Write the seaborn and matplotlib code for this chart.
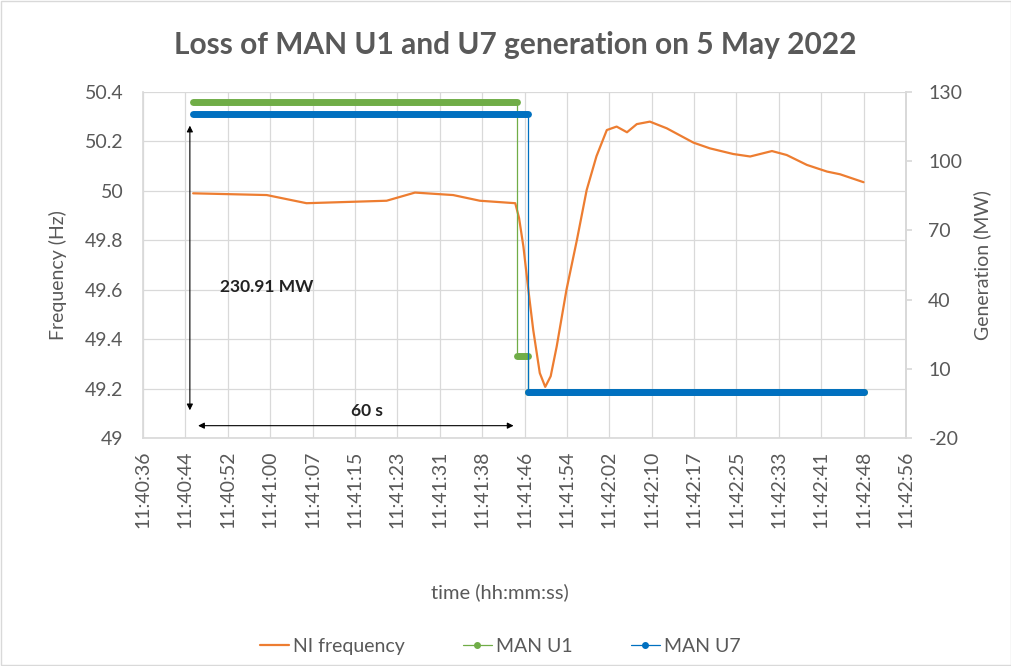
import numpy as np
import matplotlib
matplotlib.use("Agg")
import matplotlib.pyplot as plt
from matplotlib.lines import Line2D
from matplotlib.patches import Rectangle
import seaborn as sns

# seconds after 11:40:36
freq_seconds = [9.2, 22.7, 30.0, 44.7, 49.9, 56.9, 61.8, 68.3, 69.0, 69.8, 70.7, 71.6,
                72.8, 73.8, 74.8, 75.9, 77.7, 79.6, 81.4, 83.2, 85.1, 86.9, 88.8, 90.6,
                93.0, 96.1, 101.0, 104.0, 108.3, 111.4, 115.4, 118.1, 121.8, 125.5,
                127.9, 132.2]
freq_hz = [49.99, 49.983, 49.95, 49.96, 49.993, 49.983, 49.96, 49.95, 49.89, 49.774,
           49.60, 49.437, 49.263, 49.207, 49.25, 49.37, 49.60, 49.80, 50.003, 50.14,
           50.246, 50.26, 50.237, 50.27, 50.28, 50.253, 50.195, 50.172, 50.149, 50.139,
           50.161, 50.145, 50.105, 50.078, 50.067, 50.035]

u1_seconds = [9.2, 68.6, 68.6, 70.7, 70.7, 132.2]
u1_mw = [125.8, 125.8, 15.6, 15.6, 0.0, 0.0]
u7_seconds = [9.2, 70.7, 70.7, 132.2]
u7_mw = [120.5, 120.5, 0.0, 0.0]

time_labels = ["11:40:36", "11:40:44", "11:40:52", "11:41:00", "11:41:07", "11:41:15",
               "11:41:23", "11:41:31", "11:41:38", "11:41:46", "11:41:54", "11:42:02",
               "11:42:10", "11:42:17", "11:42:25", "11:42:33", "11:42:41", "11:42:48",
               "11:42:56"]
freq_ticks = [49, 49.2, 49.4, 49.6, 49.8, 50, 50.2, 50.4]
gen_ticks = [-20, 10, 40, 70, 100, 130]

ORANGE = "#ED7D31"
GREEN = "#70AD47"
BLUE = "#0070C0"
GREY = "#595959"
GRID = "#D9D9D9"

sns.set_theme(style="white")
plt.rcParams["font.family"] = ["Lato", "DejaVu Sans"]

fig = plt.figure(figsize=(10.12, 6.66), dpi=100)
ax = fig.add_axes([0.1413, 0.3423, 0.7540, 0.5196])
ax2 = ax.twinx()

# frequency
sns.lineplot(x=freq_seconds, y=freq_hz, ax=ax, color=ORANGE, linewidth=1.6,
             sort=False, estimator=None)

# generation: thin step lines plus thick marker bands on flat parts
for t, v, c in [(u1_seconds, u1_mw, GREEN), (u7_seconds, u7_mw, BLUE)]:
    sns.lineplot(x=t, y=v, ax=ax2, color=c, linewidth=0.9, sort=False, estimator=None)
    for i in range(len(t) - 1):
        if v[i] == v[i + 1]:
            ax2.plot([t[i], t[i + 1]], [v[i], v[i + 1]], color=c, linewidth=5,
                     solid_capstyle="round")

ax.set_xlim(0, 140)
ax.set_ylim(49, 50.4)
ax2.set_ylim(-20, 130)

ax.set_xticks(np.linspace(0, 140, len(time_labels)))
ax.set_xticklabels(time_labels, rotation=90, fontsize=14, color=GREY)
ax.set_yticks(freq_ticks)
ax.set_yticklabels([f"{v:g}" for v in freq_ticks], fontsize=14, color=GREY)
ax2.set_yticks(gen_ticks)
ax2.set_yticklabels([str(v) for v in gen_ticks], fontsize=14, color=GREY)

ax.grid(True, color=GRID, linewidth=0.9)
ax.set_axisbelow(True)
for a in (ax, ax2):
    a.spines["top"].set_visible(False)
    for s in ("bottom", "left", "right"):
        a.spines[s].set_color(GRID)
ax2.spines["bottom"].set_visible(False)
ax2.spines["left"].set_visible(False)
ax.tick_params(axis="x", length=0, pad=9)
ax.tick_params(axis="y", length=0, pad=14)
ax2.tick_params(axis="y", length=4, color=GRID, pad=12)

ax.set_ylabel("Frequency (Hz)", fontsize=14, color=GREY)
ax.yaxis.set_label_coords(-0.1, 0.47)
ax2.set_ylabel("Generation (MW)", fontsize=14, color=GREY)
ax2.yaxis.set_label_coords(1.088, 0.5)
fig.text(0.494, 0.111, "time (hh:mm:ss)", ha="center", va="center", fontsize=14.5,
         color=GREY)

fig.suptitle("Loss of MAN U1 and U7 generation on 5 May 2022", x=0.509, y=0.953,
             fontsize=21.5, fontweight="bold", color=GREY)

# annotations
ax.annotate("", xy=(8.6, 50.275), xytext=(8.6, 49.101),
            arrowprops=dict(arrowstyle="<|-|>", color="black", lw=0.8, mutation_scale=9))
ax.text(14.2, 49.61, "230.91 MW", fontsize=12.5, fontweight="bold", color="#222222",
        va="center")
ax.annotate("", xy=(9.6, 49.05), xytext=(68.5, 49.05),
            arrowprops=dict(arrowstyle="<|-|>", color="black", lw=0.8, mutation_scale=9))
ax.text(41.0, 49.11, "60 s", fontsize=12.5, fontweight="bold", color="#222222",
        ha="center", va="center")

handles = [Line2D([], [], color=ORANGE, lw=1.6),
           Line2D([], [], color=GREEN, lw=0.9, marker="o", markersize=4),
           Line2D([], [], color=BLUE, lw=0.9, marker="o", markersize=4)]
leg = fig.legend(handles, ["NI frequency", "MAN U1", "MAN U7"], loc="center",
                 bbox_to_anchor=(0.494, 0.03), ncol=3, frameon=False, fontsize=14,
                 handlelength=1.5, handletextpad=0.2, columnspacing=3.0)
for txt in leg.get_texts():
    txt.set_color(GREY)

fig.patches.append(Rectangle((0.001, 0.001), 0.998, 0.998, transform=fig.transFigure,
                             fill=False, edgecolor=GRID, linewidth=1))

fig.savefig("out.png", dpi=100)
